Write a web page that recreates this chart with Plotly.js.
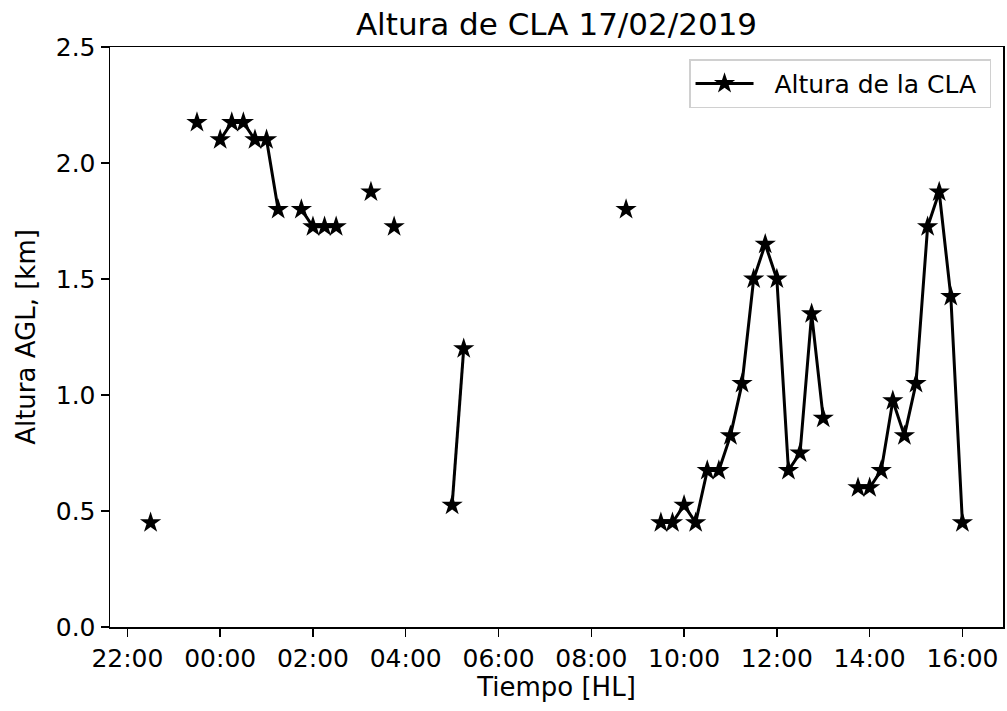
<!DOCTYPE html>
<html>
<head>
<meta charset="utf-8">
<script src="https://cdn.plot.ly/plotly-3.0.1.min.js"></script>
<style>
  html, body { margin: 0; padding: 0; background: #fff; }
  #chart { width: 1007px; height: 711px; }
</style>
</head>
<body>
<div id="chart"></div>
<script>
// Sampling times (local time, every 15 min) and boundary-layer height in km.
// null marks a time step with no retrieval, which breaks the line.
const times = [
  "2019-02-16 22:30", "2019-02-16 22:45", "2019-02-16 23:00", "2019-02-16 23:15",
  "2019-02-16 23:30", "2019-02-16 23:45",
  "2019-02-17 00:00", "2019-02-17 00:15", "2019-02-17 00:30", "2019-02-17 00:45",
  "2019-02-17 01:00", "2019-02-17 01:15", "2019-02-17 01:30", "2019-02-17 01:45",
  "2019-02-17 02:00", "2019-02-17 02:15", "2019-02-17 02:30", "2019-02-17 02:45",
  "2019-02-17 03:00", "2019-02-17 03:15", "2019-02-17 03:30", "2019-02-17 03:45",
  "2019-02-17 04:00", "2019-02-17 04:15", "2019-02-17 04:30", "2019-02-17 04:45",
  "2019-02-17 05:00", "2019-02-17 05:15", "2019-02-17 05:30",
  "2019-02-17 08:30", "2019-02-17 08:45", "2019-02-17 09:00", "2019-02-17 09:15",
  "2019-02-17 09:30", "2019-02-17 09:45", "2019-02-17 10:00", "2019-02-17 10:15",
  "2019-02-17 10:30", "2019-02-17 10:45", "2019-02-17 11:00", "2019-02-17 11:15",
  "2019-02-17 11:30", "2019-02-17 11:45", "2019-02-17 12:00", "2019-02-17 12:15",
  "2019-02-17 12:30", "2019-02-17 12:45", "2019-02-17 13:00", "2019-02-17 13:15",
  "2019-02-17 13:30", "2019-02-17 13:45", "2019-02-17 14:00", "2019-02-17 14:15",
  "2019-02-17 14:30", "2019-02-17 14:45", "2019-02-17 15:00", "2019-02-17 15:15",
  "2019-02-17 15:30", "2019-02-17 15:45", "2019-02-17 16:00"
];
const alturaCLA = [
  0.45, null, null, null,
  2.175, null,
  2.1, 2.175, 2.175, 2.1,
  2.1, 1.8, null, 1.8,
  1.725, 1.725, 1.725, null,
  null, 1.875, null, 1.725,
  null, null, null, null,
  0.525, 1.2, null,
  null, 1.8, null, null,
  0.45, 0.45, 0.525, 0.45,
  0.675, 0.675, 0.825, 1.05,
  1.5, 1.65, 1.5, 0.675,
  0.75, 1.35, 0.9, null,
  null, 0.6, 0.6, 0.675,
  0.975, 0.825, 1.05, 1.725,
  1.875, 1.425, 0.45
];
const yTicks = [0.0, 0.5, 1.0, 1.5, 2.0, 2.5];
const seriesName = "Altura de la CLA";

const font = "DejaVu Sans, sans-serif";
const tickSize = 25;
const labelSize = 26;
const nbsp = "\u00a0";

const trace = {
  x: times,
  y: alturaCLA,
  type: "scatter",
  mode: "lines+markers",
  // non-breaking spaces widen the gap between the legend sample and its label
  name: nbsp + nbsp + seriesName + nbsp,
  connectgaps: false,
  line: { color: "#000", width: 3 },
  marker: { symbol: "star", size: 16, color: "#000", line: { width: 0 } }
};

const layout = {
  width: 1007,
  height: 711,
  margin: { l: 110, r: 4, t: 47, b: 84 },
  paper_bgcolor: "#fff",
  plot_bgcolor: "#fff",
  font: { family: font, color: "#000", size: tickSize },
  title: {
    text: "Altura de CLA 17/02/2019",
    font: { family: font, size: 31, color: "#000" },
    x: 0.5, xref: "paper", xanchor: "center",
    y: 1, yref: "paper", yanchor: "bottom",
    pad: { b: 12 }
  },
  xaxis: {
    type: "date",
    range: ["2019-02-16 21:37:30", "2019-02-17 16:52:30"],
    tick0: "2019-02-16 22:00",
    dtick: 7200000,
    tickformat: "%H:%M",
    ticks: "outside",
    ticklen: 8,
    tickwidth: 1.5,
    tickcolor: "#000",
    showline: true,
    linecolor: "#000",
    linewidth: 1.5,
    mirror: true,
    showgrid: false,
    zeroline: false,
    tickfont: { family: font, size: tickSize, color: "#000" },
    title: { text: "Tiempo [HL]", font: { family: font, size: labelSize, color: "#000" }, standoff: 6 }
  },
  yaxis: {
    range: [0, 2.5],
    tickmode: "array",
    tickvals: yTicks,
    ticktext: yTicks.map(v => v.toFixed(1)),
    ticks: "outside",
    ticklen: 8,
    tickwidth: 1.5,
    tickcolor: "#000",
    showline: true,
    linecolor: "#000",
    linewidth: 1.5,
    mirror: true,
    showgrid: false,
    zeroline: false,
    tickfont: { family: font, size: tickSize, color: "#000" },
    title: { text: "Altura AGL, [km]", font: { family: font, size: labelSize, color: "#000" }, standoff: 12 }
  },
  showlegend: true,
  legend: {
    x: 0.9866, y: 0.979, xanchor: "right", yanchor: "top",
    bgcolor: "rgba(255,255,255,0.8)",
    bordercolor: "#d0d0d0",
    borderwidth: 1.5,
    font: { family: font, size: tickSize, color: "#000" },
    itemwidth: 58
  }
};

Plotly.newPlot("chart", [trace], layout, { displayModeBar: false, staticPlot: true });
</script>
</body>
</html>
